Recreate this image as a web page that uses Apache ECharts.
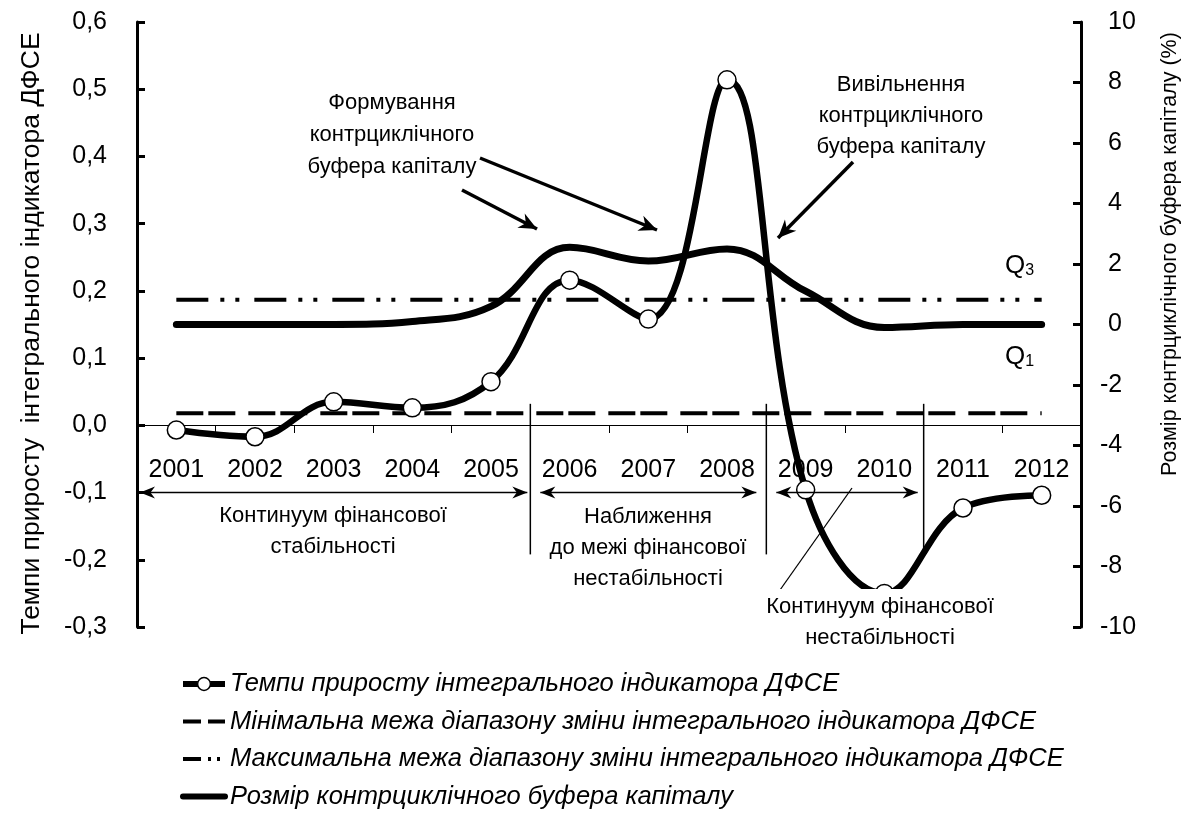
<!DOCTYPE html>
<html><head><meta charset="utf-8">
<script src="https://cdn.jsdelivr.net/npm/echarts@6/dist/echarts.min.js"></script>
<style>html,body{margin:0;padding:0;background:#fff}#c{width:1195px;height:823px}</style>
</head><body><div id="c"></div>
<script>
const years = ['2001','2002','2003','2004','2005','2006','2007','2008','2009','2010','2011','2012'];
const growthRate = [-0.007,-0.017,0.035,0.026,0.065,0.216,0.158,0.514,-0.096,-0.25,-0.123,-0.104];
const minBound = [0.018,0.018,0.018,0.018,0.018,0.018,0.018,0.018,0.018,0.018,0.018,0.018];
const maxBound = [0.187,0.187,0.187,0.187,0.187,0.187,0.187,0.187,0.187,0.187,0.187,0.187];
const bufferSize = [0,0,0,0.1,0.6,2.55,2.1,2.5,1.1,-0.1,0,0];
const seriesNames = [
  'Темпи приросту інтегрального індикатора ДФСЕ',
  'Мінімальна межа діапазону зміни інтегрального індикатора ДФСЕ',
  'Максимальна межа діапазону зміни інтегрального індикатора ДФСЕ',
  'Розмір контрциклічного буфера капіталу'
];
const leftAxisName = 'Темпи приросту  інтегрального індикатора ДФСЕ';
const rightAxisName = 'Розмір контрциклічного буфера капіталу (%)';

const FN = "'Liberation Sans Narrow','Arial Narrow','Liberation Sans',Arial,sans-serif";
const chart = echarts.init(document.getElementById('c'), null, {renderer:'canvas'});
const hidden = {color:'rgba(0,0,0,0)', borderColor:'rgba(0,0,0,0)', borderWidth:0};

const option = {
  backgroundColor:'#fff',
  animation:false,
  grid:{left:137, right:114, top:22, bottom:196, containLabel:false},
  legend:{
    orient:'vertical', left:180, top:671, padding:0, itemGap:11.5, itemWidth:42, itemHeight:16,
    textStyle:{fontFamily:FN, fontSize:25.5, fontStyle:'italic', color:'#000', lineHeight:26},
    data:[
      {name:seriesNames[0], lineStyle:{width:6, color:'#000'}, itemStyle:{color:'#fff', borderColor:'#000', borderWidth:1.5}},
      {name:seriesNames[1], itemStyle:hidden, lineStyle:{width:4, color:'#000', type:[18,7]}},
      {name:seriesNames[2], itemStyle:hidden, lineStyle:{width:4, color:'#000', type:[18,7,3,6,3,7]}},
      {name:seriesNames[3], itemStyle:hidden, lineStyle:{width:6, color:'#000'}}
    ]
  },
  xAxis:{
    type:'category', data:years, boundaryGap:true, position:'bottom', offset:-202,
    axisLine:{onZero:false, lineStyle:{color:'#000', width:1}},
    axisTick:{show:true, length:8, lineStyle:{color:'#000', width:1}},
    axisLabel:{fontFamily:FN, fontSize:25, color:'#000', margin:33, interval:0},
    splitLine:{show:false}
  },
  yAxis:[
    {type:'value', min:-0.3, max:0.6, interval:0.1, position:'left',
     name:leftAxisName, nameLocation:'middle', nameGap:92, nameRotate:90,
     nameTextStyle:{fontFamily:FN, fontSize:26.5, color:'#000', padding:[0,18,0,0]},
     axisLine:{show:true, lineStyle:{color:'#000', width:3}},
     axisTick:{show:true, inside:true, length:8, lineStyle:{color:'#000', width:3}},
     axisLabel:{fontFamily:FN, fontSize:25, color:'#000', margin:30,
       formatter:v=>{ if (Math.abs(v)<1e-9) v=0; return v.toFixed(1).replace('.',','); }},
     splitLine:{show:false}},
    {type:'value', min:-10, max:10, interval:2, position:'right',
     axisLine:{show:true, lineStyle:{color:'#000', width:3}},
     axisTick:{show:true, inside:true, length:8, lineStyle:{color:'#000', width:3}},
     axisLabel:{fontFamily:FN, fontSize:25, color:'#000', margin:19,
       formatter:v=> v>=0 ? '{p|'+v+'}' : String(v),
       rich:{p:{fontFamily:FN, fontSize:25, color:'#000', padding:[0,0,0,8]}}},
     splitLine:{show:false}}
  ],
  series:[
    {name:seriesNames[3], type:'line', yAxisIndex:1, data:bufferSize, smooth:0.4,
     symbol:'none', lineStyle:{color:'#000', width:7, cap:'round'}, itemStyle:{color:'#000'}, z:2},
    {name:seriesNames[1], type:'line', yAxisIndex:0, data:minBound, symbol:'none',
     lineStyle:{color:'#000', width:4, type:[27,5,27,13]}, itemStyle:{color:'#000'}, z:2},
    {name:seriesNames[2], type:'line', yAxisIndex:0, data:maxBound, symbol:'none',
     lineStyle:{color:'#000', width:4, type:[32,12,4,11,4,15]}, itemStyle:{color:'#000'}, z:2},
    {name:seriesNames[0], type:'line', yAxisIndex:0, data:growthRate, smooth:0.4,
     symbol:'circle', symbolSize:18,
     lineStyle:{color:'#000', width:6.5},
     itemStyle:{color:'#fff', borderColor:'#000', borderWidth:1.5}, z:3}
  ]
};
chart.setOption(option);

// ---- annotations ----
function arrowEls(x1,y1,x2,y2,w,hl,hw,both){
  const els=[{type:'line', shape:{x1,y1,x2,y2}, style:{stroke:'#000', lineWidth:w}, z:50}];
  function head(ax,ay,bx,by){
    const dx=bx-ax, dy=by-ay, L=Math.hypot(dx,dy), ux=dx/L, uy=dy/L;
    const px=-uy, py=ux;
    const baseX=bx-ux*hl, baseY=by-uy*hl;
    const notchX=bx-ux*hl*0.7, notchY=by-uy*hl*0.7;
    els.push({type:'polygon', shape:{points:[[bx,by],[baseX+px*hw,baseY+py*hw],[notchX,notchY],[baseX-px*hw,baseY-py*hw]]},
      style:{fill:'#000'}, z:51});
  }
  head(x1,y1,x2,y2);
  if(both) head(x2,y2,x1,y1);
  return els;
}
function txt(x,y,text,size,extra){
  return {type:'text', x, y, z:60,
    style:Object.assign({text, fontFamily:FN, fontSize:size, fill:'#000', align:'center', verticalAlign:'middle', lineHeight:31}, extra||{})};
}
function catX(i){ return chart.convertToPixel({xAxisIndex:0}, years[i]); }
function boundX(i){ return (catX(i-1)+catX(i))/2; }
const yTop = chart.convertToPixel({yAxisIndex:0}, 0.032);
const yBot = chart.convertToPixel({yAxisIndex:0}, -0.192);
const yArr = chart.convertToPixel({yAxisIndex:0}, -0.1);
const leftEdge = catX(0) - (catX(1)-catX(0))/2;

let g = [];
[5,8,10].forEach(i=>{ const x=boundX(i); g.push({type:'line', shape:{x1:x,y1:yTop,x2:x,y2:yBot}, style:{stroke:'#000', lineWidth:1.5}, z:40}); });
g = g.concat(arrowEls(leftEdge+3, yArr, boundX(5)-3, yArr, 1.5, 15, 6, true));
g = g.concat(arrowEls(boundX(5)+10, yArr, boundX(8)-10, yArr, 1.5, 15, 6, true));
g = g.concat(arrowEls(boundX(8)+10, yArr, boundX(10)-6, yArr, 1.5, 15, 6, true));

g.push(txt(333, 531, 'Континуум фінансової\nстабільності', 22));
g.push(txt(648, 548, 'Наближення\nдо межі фінансової\nнестабільності', 22));
g.push({type:'line', shape:{x1:852,y1:488,x2:780,y2:590}, style:{stroke:'#000', lineWidth:1.3}, z:40});
g.push(txt(880, 622, 'Континуум фінансової\nнестабільності', 22, {backgroundColor:'#fff', padding:[4,2,0,2]}));

g.push(txt(392, 135, 'Формування\nконтрциклічного\nбуфера капіталу', 22, {lineHeight:32}));
g = g.concat(arrowEls(462, 190, 537, 229, 3.5, 18, 8, false));
g = g.concat(arrowEls(480, 158, 657, 230, 3.5, 18, 8, false));
g.push(txt(901, 116, 'Вивільнення\nконтрциклічного\nбуфера капіталу', 22));
g = g.concat(arrowEls(853, 162, 778, 238, 3.5, 18, 8, false));

const qRich = {a:{fontFamily:FN,fontSize:26,fill:'#000'}, b:{fontFamily:FN,fontSize:16,fill:'#000', padding:[10,0,0,0]}};
g.push({type:'text', x:1005, y:266, z:60, style:{text:'{a|Q}{b|3}', verticalAlign:'middle', rich:qRich}});
g.push({type:'text', x:1005, y:357, z:60, style:{text:'{a|Q}{b|1}', verticalAlign:'middle', rich:qRich}});

g.push({type:'text', x:1170, y:254, rotation:Math.PI/2, z:60,
  style:{text:rightAxisName, fontFamily:FN, fontSize:21.5, fill:'#000', align:'center', verticalAlign:'middle'}});

chart.setOption({graphic:{elements:g}});
</script></body></html>
